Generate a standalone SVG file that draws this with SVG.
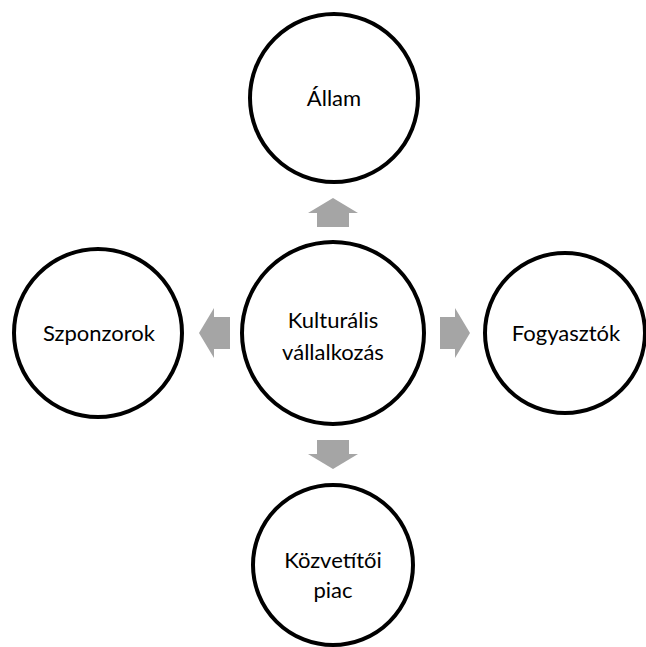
<svg xmlns="http://www.w3.org/2000/svg" width="646" height="647" viewBox="0 0 646 647">
<style>
.node circle{fill:#ffffff;stroke:#000000;stroke-width:4}
.lbl{font-family:Lato,"Liberation Sans",sans-serif;font-size:22px;fill:#000000;text-anchor:middle}
.arr{fill:#a5a5a5}
</style>
<rect width="646" height="647" fill="#ffffff"/>
<g id="connectors">
<polygon class="arr" points="333,198 358,213 349,213 349,227 317,227 317,213 308,213"/>
<polygon class="arr" points="333,469 358,454 349,454 349,440 317,440 317,454 308,454"/>
<polygon class="arr" points="199,333 214,308 214,317 230,317 230,349 214,349 214,358"/>
<polygon class="arr" points="470,333 455,308 455,317 440,317 440,349 455,349 455,358"/>
</g>
<g id="center" class="node"><circle cx="333" cy="333" r="91"/><text class="lbl" x="333" y="328">Kulturális</text><text class="lbl" x="333" y="360">vállalkozás</text></g>
<g id="allam" class="node"><circle cx="334" cy="98" r="84"/><text class="lbl" x="334" y="106">Állam</text></g>
<g id="szponzorok" class="node"><circle cx="98" cy="333" r="84"/><text class="lbl" x="99" y="341">Szponzorok</text></g>
<g id="fogyasztok" class="node"><circle cx="565" cy="333" r="80"/><text class="lbl" x="566" y="341">Fogyasztók</text></g>
<g id="kozvetitoi" class="node"><circle cx="333" cy="565" r="80"/><text class="lbl" x="333" y="568">Közvetítői</text><text class="lbl" x="333" y="598">piac</text></g>
</svg>
